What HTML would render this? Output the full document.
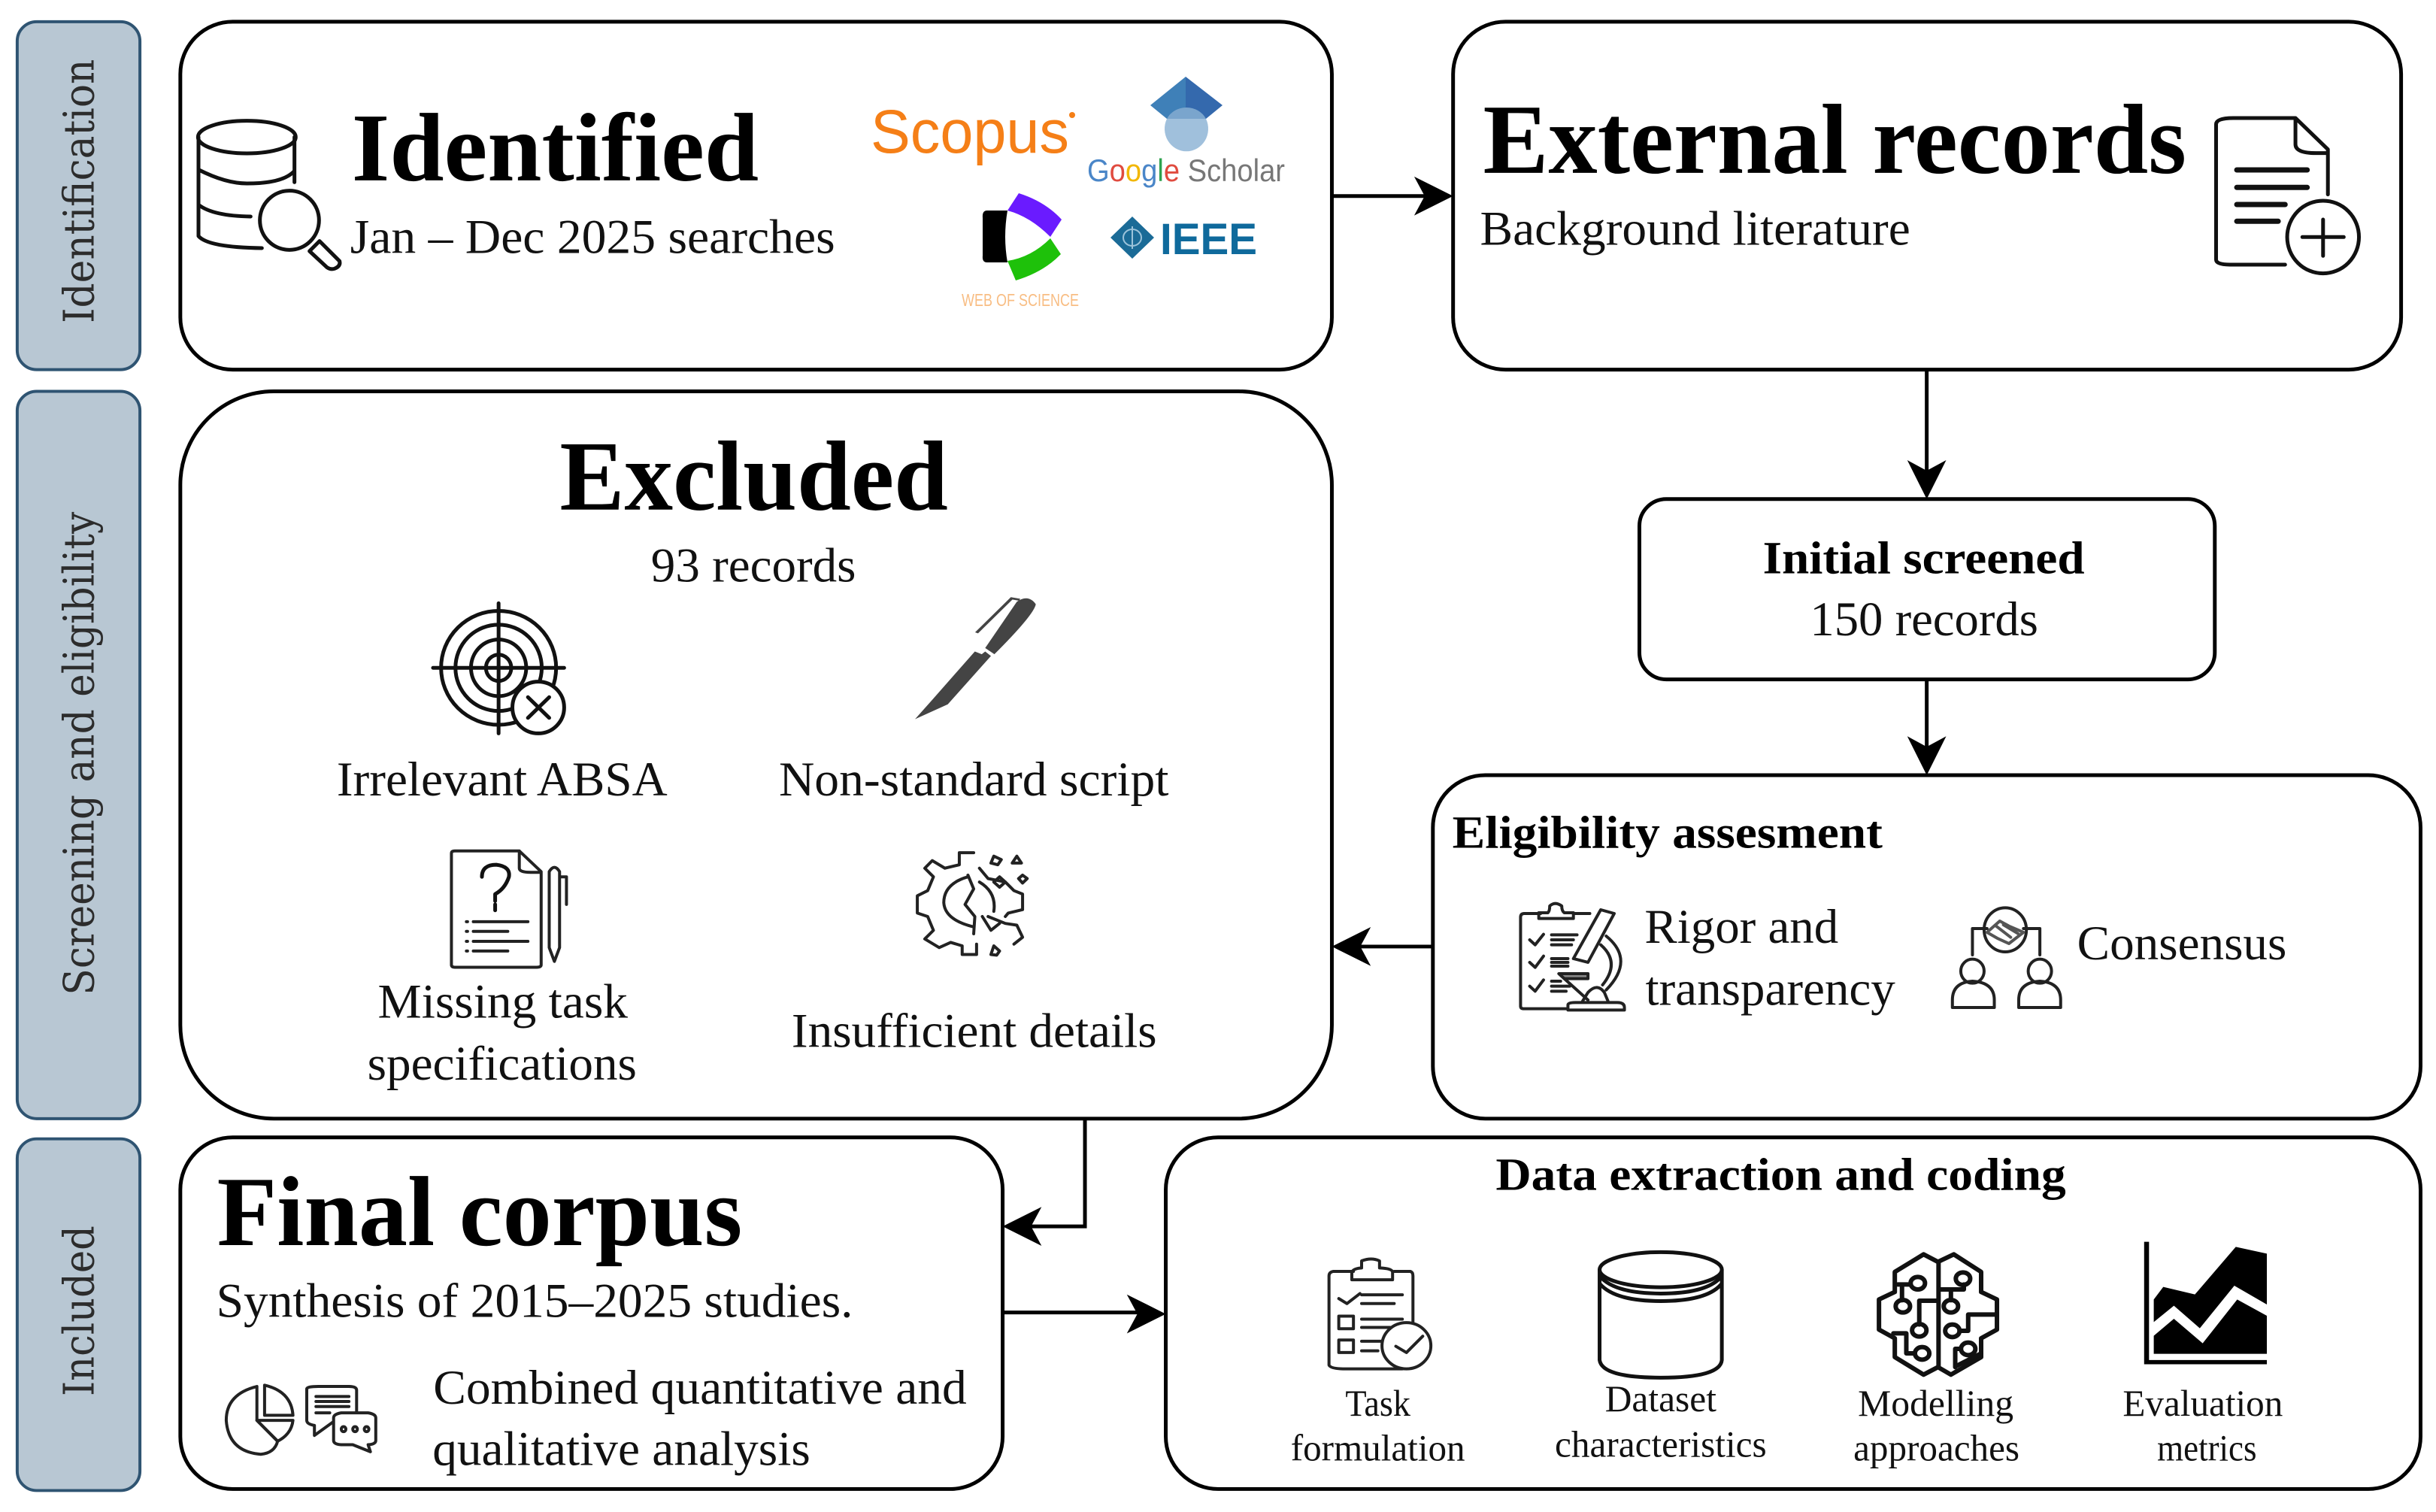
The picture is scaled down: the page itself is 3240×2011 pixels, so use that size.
<!DOCTYPE html>
<html><head><meta charset="utf-8"><style>
html,body{margin:0;padding:0;background:#fff}
svg{display:block}
text{font-family:"Liberation Serif",serif;fill:#111}
.b{font-weight:bold;fill:#000}
.box{fill:#fff;stroke:#000;stroke-width:5}
.bar{fill:#b8c7d3;stroke:#2f5472;stroke-width:4}
.side{font-family:"DejaVu Serif","Liberation Serif",serif;font-size:56px;fill:#2c2c2c}
.l{fill:none;stroke:#000;stroke-width:5}
.logo{font-family:"Liberation Sans",sans-serif}
.ic *{vector-effect:non-scaling-stroke;stroke-linecap:round;stroke-linejoin:round}
.ic{fill:none;stroke:#222;stroke-width:4}
.t5{stroke-width:5;stroke:#111}
.t6{stroke-width:6;stroke:#111}
</style></head><body>
<svg width="3240" height="2011" viewBox="0 0 3240 2011" xmlns="http://www.w3.org/2000/svg">
<defs><path id="ah" d="M0 0 L-52 -26 L-38 0 L-52 26 Z" fill="#000"/></defs>
<rect width="3240" height="2011" fill="#fff"/>
<g transform="scale(.9952)">
<!-- side bars -->
<rect class="bar" x="23" y="29" width="164" height="465" rx="26"/>
<rect class="bar" x="23" y="523" width="164" height="972" rx="26"/>
<rect class="bar" x="23" y="1522" width="164" height="470" rx="26"/>
<text class="side" transform="translate(125,432) rotate(-90)" textLength="353" lengthAdjust="spacingAndGlyphs">Identification</text>
<text class="side" transform="translate(125,1330) rotate(-90)" textLength="646" lengthAdjust="spacingAndGlyphs">Screening and eligibility</text>
<text class="side" transform="translate(125,1866) rotate(-90)" textLength="228" lengthAdjust="spacingAndGlyphs">Included</text>

<!-- boxes -->
<rect class="box" x="241" y="29" width="1539" height="465" rx="70"/>
<rect class="box" x="1942" y="29" width="1267" height="465" rx="70"/>
<rect class="box" x="241" y="523" width="1539" height="972" rx="125"/>
<rect class="box" x="2191" y="667" width="769" height="241" rx="36"/>
<rect class="box" x="1915" y="1036" width="1320" height="459" rx="70"/>
<rect class="box" x="241" y="1520" width="1099" height="470" rx="70"/>
<rect class="box" x="1558" y="1520" width="1677" height="470" rx="70"/>

<!-- connectors -->
<path class="l" d="M1780 262H1905"/><use href="#ah" transform="translate(1942,262)"/>
<path class="l" d="M2575 494V635"/><use href="#ah" transform="translate(2575,667) rotate(90)"/>
<path class="l" d="M2575 908V1005"/><use href="#ah" transform="translate(2575,1036) rotate(90)"/>
<path class="l" d="M1915 1265H1815"/><use href="#ah" transform="translate(1780,1265) rotate(180)"/>
<path class="l" d="M1450 1495V1639H1375"/><use href="#ah" transform="translate(1340,1639) rotate(180)"/>
<path class="l" d="M1340 1754H1525"/><use href="#ah" transform="translate(1558,1756)"/>

<!-- text -->
<text class="b" x="470" y="241" font-size="130" textLength="544" lengthAdjust="spacingAndGlyphs">Identified</text>
<text x="468" y="338" font-size="65" textLength="648" lengthAdjust="spacingAndGlyphs">Jan – Dec 2025 searches</text>
<text class="b" x="1982" y="231" font-size="133" textLength="940" lengthAdjust="spacingAndGlyphs">External records</text>
<text x="1978" y="327" font-size="65" textLength="575" lengthAdjust="spacingAndGlyphs">Background literature</text>
<text class="b" x="748" y="681" font-size="133" textLength="519" lengthAdjust="spacingAndGlyphs">Excluded</text>
<text x="870" y="777" font-size="65" textLength="274" lengthAdjust="spacingAndGlyphs">93 records</text>
<text x="450" y="1063" font-size="65" textLength="442" lengthAdjust="spacingAndGlyphs">Irrelevant ABSA</text>
<text x="1041" y="1063" font-size="65" textLength="521" lengthAdjust="spacingAndGlyphs">Non-standard script</text>
<text x="505" y="1360" font-size="65" textLength="334" lengthAdjust="spacingAndGlyphs">Missing task</text>
<text x="491" y="1443" font-size="65" textLength="360" lengthAdjust="spacingAndGlyphs">specifications</text>
<text x="1058" y="1399" font-size="65" textLength="488" lengthAdjust="spacingAndGlyphs">Insufficient details</text>
<text class="b" x="2356" y="766" font-size="62" textLength="430" lengthAdjust="spacingAndGlyphs">Initial screened</text>
<text x="2419" y="849" font-size="65" textLength="305" lengthAdjust="spacingAndGlyphs">150 records</text>
<text class="b" x="1941" y="1133" font-size="62" textLength="575" lengthAdjust="spacingAndGlyphs">Eligibility assesment</text>
<text x="2198" y="1260" font-size="65" textLength="259" lengthAdjust="spacingAndGlyphs">Rigor and</text>
<text x="2199" y="1343" font-size="65" textLength="334" lengthAdjust="spacingAndGlyphs">transparency</text>
<text x="2776" y="1282" font-size="65" textLength="280" lengthAdjust="spacingAndGlyphs">Consensus</text>
<text class="b" x="290" y="1664" font-size="133" textLength="702" lengthAdjust="spacingAndGlyphs">Final corpus</text>
<text x="289" y="1760" font-size="65" textLength="851" lengthAdjust="spacingAndGlyphs">Synthesis of 2015–2025 studies.</text>
<text x="579" y="1876" font-size="65" textLength="713" lengthAdjust="spacingAndGlyphs">Combined quantitative and</text>
<text x="578" y="1958" font-size="65" textLength="505" lengthAdjust="spacingAndGlyphs">qualitative analysis</text>
<text class="b" x="1999" y="1590" font-size="62" textLength="762" lengthAdjust="spacingAndGlyphs">Data extraction and coding</text>
<text x="1798" y="1892" font-size="50" textLength="87" lengthAdjust="spacingAndGlyphs">Task</text>
<text x="1725" y="1952" font-size="50" textLength="233" lengthAdjust="spacingAndGlyphs">formulation</text>
<text x="2145" y="1886" font-size="50" textLength="149" lengthAdjust="spacingAndGlyphs">Dataset</text>
<text x="2078" y="1947" font-size="50" textLength="283" lengthAdjust="spacingAndGlyphs">characteristics</text>
<text x="2483" y="1892" font-size="50" textLength="208" lengthAdjust="spacingAndGlyphs">Modelling</text>
<text x="2477" y="1952" font-size="50" textLength="222" lengthAdjust="spacingAndGlyphs">approaches</text>
<text x="2837" y="1892" font-size="50" textLength="214" lengthAdjust="spacingAndGlyphs">Evaluation</text>
<text x="2883" y="1952" font-size="50" textLength="133" lengthAdjust="spacingAndGlyphs">metrics</text>
</g>

<!-- logos (true pixel coordinates) -->
<text class="logo" x="1158" y="203" font-size="82" style="fill:#f57f17" textLength="264" lengthAdjust="spacingAndGlyphs">Scopus</text>
<circle cx="1426" cy="153" r="4" fill="#f57f17"/>
<path d="M1577 102L1530 140L1552 158H1577Z" fill="#3f80b8"/>
<path d="M1577 102L1626 140L1604 158H1577Z" fill="#3469ad"/>
<path d="M1552 158A29 27 0 0 1 1604 158Z" fill="#7aa5cd"/>
<path d="M1552 158H1604A29 30 0 1 1 1552 158Z" fill="#a0c0dc"/>
<text class="logo" x="1446" y="241" font-size="42" textLength="263" lengthAdjust="spacingAndGlyphs"><tspan style="fill:#4a86c8">G</tspan><tspan style="fill:#e04b3f">o</tspan><tspan style="fill:#f2b705">o</tspan><tspan style="fill:#4a86c8">g</tspan><tspan style="fill:#2ea24e">l</tspan><tspan style="fill:#e04b3f">e</tspan><tspan style="fill:#777"> Scholar</tspan></text>
<path d="M1313 280H1340Q1334 315 1340 349H1313Q1306 349 1307 340V290Q1306 280 1313 280Z" fill="#000"/>
<path d="M1340 280L1355 257Q1390 268 1412 292L1397 315Q1370 288 1340 280Z" fill="#6a1bff"/>
<path d="M1340 347Q1372 342 1397 317L1411 338Q1388 362 1351 373Z" fill="#1ec10a"/>
<text class="logo" x="1279" y="407" font-size="23" style="fill:#f8bd83" textLength="156" lengthAdjust="spacingAndGlyphs">WEB OF SCIENCE</text>
<path d="M1506 288L1535 316L1506 344L1477 316Z" fill="#1b6b97"/>
<ellipse cx="1506" cy="316" rx="12" ry="11" fill="none" stroke="#9cc3da" stroke-width="2"/>
<path d="M1506 301V331" stroke="#9cc3da" stroke-width="2"/>
<text class="logo" x="1543" y="338" font-size="58" font-weight="bold" style="fill:#0f6a9c" textLength="129" lengthAdjust="spacingAndGlyphs">IEEE</text>

<!-- DB + magnifier -->
<g class="ic t5" transform="translate(250,144) scale(.3333)">
<ellipse cx="235" cy="115" rx="195" ry="65"/>
<path d="M42 115V510Q80 555 295 558M425 115V295M42 245Q150 300 235 300Q380 300 425 250M42 385Q100 430 250 432"/>
<circle cx="405" cy="447" r="118"/>
<path d="M485 570L525 530L605 610Q610 630 585 640Q570 645 555 635Z"/>
</g>

<!-- doc plus -->
<g class="ic t5" transform="translate(1800,2) scale(.918,.3333)">
<path d="M1350 1050H1270Q1250 1050 1250 1030V490Q1250 465 1275 465H1365L1412 590V770M1365 465V570Q1365 605 1395 605H1412"/>
<path d="M1280 672H1382M1280 742H1382M1280 810H1350M1280 877H1340" style="stroke-width:7"/>
<ellipse cx="1405" cy="940" rx="52" ry="145"/>
<path d="M1405 870V1015M1375 940H1435"/>
</g>

<!-- target -->
<g class="ic t5" transform="translate(400,762) scale(.765,.459)">
<ellipse cx="344" cy="275" rx="100" ry="165"/><ellipse cx="344" cy="275" rx="75" ry="125"/><ellipse cx="344" cy="275" rx="48" ry="82"/><ellipse cx="344" cy="275" rx="22" ry="38"/>
<path d="M344 88V465M230 275H458" />
<ellipse cx="413" cy="390" rx="45" ry="75" fill="#fff"/>
<path d="M395 360L432 420M432 360L395 420"/>
</g>

<!-- pen -->
<g transform="translate(400,760) scale(.765,.459)">
<path d="M1068 428L1098 372L1172 232L1184 240L1190 232L1200 245L1125 385Z" fill="#444"/>
<path d="M1190 222L1245 88Q1265 65 1278 95Q1275 125 1206 240Z" fill="#444"/>
<path d="M1175 178L1236 78L1250 82" stroke="#444" stroke-width="6" fill="none"/>
</g>

<!-- missing doc -->
<g class="ic" transform="translate(400,760) scale(.765,.459)">
<path d="M268 810H380L418 870V1140Q418 1147 410 1147H268Q262 1147 262 1140V817Q262 810 268 810ZM380 810V860Q380 872 400 872H418"/>
<path d="M315 885Q315 850 340 850Q365 855 362 885Q355 920 338 935V955M338 965V982" class="t5"/>
<path d="M300 1015H395M300 1043H360M300 1072H395M300 1100H360M288 1015H290M288 1043H290M288 1072H290M288 1100H290"/>
<path d="M432 870Q441 845 450 870V1090L441 1130L432 1090ZM450 885H462V965"/>
</g>

<!-- broken gear -->
<g class="ic" transform="translate(400,760) scale(.765,.459)">
<path d="M1170 815H1145V850L1120 860L1098 838L1085 860L1100 885L1090 925L1072 940V990L1090 1000L1100 1040L1085 1065L1110 1090L1130 1075L1150 1085V1110H1175V1080"/>
<path d="M1180 860L1195 890L1225 900L1240 925L1255 935V980L1230 990L1225 1000"/>
<path d="M1160 885Q1118 905 1118 960Q1120 1010 1170 1030M1160 880L1170 920L1155 965L1172 1000L1170 1050M1180 900Q1210 930 1205 985"/>
<path d="M1195 1000L1225 1020L1245 1025L1255 1060L1240 1080M1185 1000L1200 1040L1215 1020"/>
<path d="M1205 825L1218 835L1212 850L1200 845ZM1245 825L1253 845H1237ZM1215 885L1225 900L1215 915L1205 900ZM1255 880L1263 890L1255 903L1248 890ZM1205 1085L1215 1100L1210 1112L1200 1110Z"/>
</g>

<!-- clipboard microscope -->
<g class="ic" transform="translate(2020,1190) scale(.4847,.3333)">
<path d="M60 75H15Q5 75 5 90V445Q5 455 15 455H130M150 75H195"/>
<path d="M55 95V72H80Q85 65 85 45Q100 25 118 45Q118 65 125 72H150V95Z"/>
<path d="M30 180L45 200L68 158M30 270L45 290L68 245M30 365L45 385L68 340"/>
<path d="M90 160H160M90 180H150M90 200H145M90 255H135M90 270H135M90 285H135M90 345H115M90 365H140M90 385H130"/>
<path d="M225 60L262 75L190 270L150 255Z" fill="#fff"/>
<path d="M240 165Q320 260 240 380M225 200Q280 270 230 360"/>
<path d="M110 315H190V335H125Z" fill="#888"/>
<path d="M135 458V440Q135 430 155 430H270Q290 430 290 450V460H135M175 425L190 390Q215 350 235 390L245 425M125 335L190 420"/>
</g>

<!-- consensus -->
<g class="ic" transform="translate(2020,1190) scale(.4847,.3333)">
<ellipse cx="1335" cy="140" rx="58" ry="88"/>
<path d="M1285 150L1320 105L1345 125L1385 150L1345 195L1315 175ZM1310 125L1350 170M1330 120L1370 155" style="stroke:#555;stroke-width:4"/>
<path d="M1245 240V135H1285M1385 135H1430V240"/>
<ellipse cx="1245" cy="305" rx="32" ry="48"/><ellipse cx="1430" cy="305" rx="32" ry="48"/>
<path d="M1190 450V420Q1190 350 1245 345Q1305 350 1305 420V450ZM1372 450V420Q1372 350 1430 345Q1487 350 1487 420V450Z"/>
</g>

<!-- pie chat -->
<g class="ic" transform="translate(0,1500) scale(1.02,.334)">
<path d="M335 1030Q295 1060 295 1165Q298 1290 340 1300Q358 1295 362 1248L335 1165Z"/>
<path d="M345 1025Q380 1050 382 1145H345ZM335 1165H382Q380 1220 362 1248Z"/>
<path d="M435 1170L410 1225V1185Q400 1180 400 1165V1040Q400 1030 415 1030H455Q465 1030 465 1045V1135"/>
<path d="M412 1070H455M412 1090H455M412 1110H455M412 1135H430"/>
<path d="M445 1135H480Q490 1140 490 1155V1245Q490 1260 480 1262L483 1290L460 1262H445Q435 1260 435 1245V1155Q435 1140 445 1135Z" fill="#fff"/>
<ellipse cx="448" cy="1200" rx="3" ry="10"/><ellipse cx="463" cy="1200" rx="3" ry="10"/><ellipse cx="478" cy="1200" rx="3" ry="10"/>
</g>

<!-- task icon -->
<g class="ic" transform="translate(1540,1500) scale(1.084,.334)">
<path d="M240 572H215Q210 575 210 590V945Q212 960 230 960H300M290 572H310Q313 575 313 590V775"/>
<path d="M238 605V575Q240 560 250 558V530Q262 515 272 530V558Q288 560 288 575V605Z"/>
<path d="M222 680L232 700L248 660M250 665H300M250 700H290M250 762H300M250 795H285M250 850H280M250 888H270"/>
<rect x="222" y="750" width="18" height="50"/><rect x="222" y="845" width="18" height="50"/>
<ellipse cx="305" cy="868" rx="30" ry="92" fill="#fff"/>
<path d="M292 870L305 895L325 830"/>
</g>

<!-- cylinder -->
<g class="ic t5" transform="translate(1540,1500) scale(1.084,.334)">
<ellipse cx="617" cy="565" rx="75" ry="70"/>
<path d="M542 565V925Q545 995 617 995Q690 995 692 925V565M542 590Q560 660 617 660Q675 660 692 590M542 620Q560 690 617 690Q675 690 692 620"/>
</g>

<!-- brain -->
<g class="ic t6" transform="translate(2480,1640) scale(.3827,.3333)">
<path d="M205 85L255 115L310 85L405 155V235L460 265V385L405 420V495L300 565L255 535L205 565L105 495V420L50 385V265L105 235V155Z"/>
<path d="M257 115V535M115 205H160M130 205V268M190 365V270H250M100 400H145V480H175M260 225H345V205M300 230V268M330 390H360V325H460M315 535V462H335M320 530L405 480"/>
<circle cx="185" cy="200" r="25"/><circle cx="133" cy="292" r="25"/><circle cx="190" cy="388" r="25"/><circle cx="200" cy="480" r="25"/>
<circle cx="342" cy="182" r="25"/><circle cx="300" cy="292" r="25"/><circle cx="305" cy="390" r="25"/><circle cx="360" cy="462" r="25"/>
</g>

<!-- chart -->
<g transform="translate(2480,1640) scale(.3827,.3333)">
<path d="M980 35V515H1398" fill="none" stroke="#000" stroke-width="17"/>
<path d="M1005 265L1038 215L1148 245L1290 55L1398 82V285L1285 210L1165 380L1075 290L1005 355Z" fill="#000"/>
<path d="M1005 410L1075 342L1175 440L1295 265L1398 330V482H1005Z" fill="#000"/>
</g>
</svg>
</body></html>
